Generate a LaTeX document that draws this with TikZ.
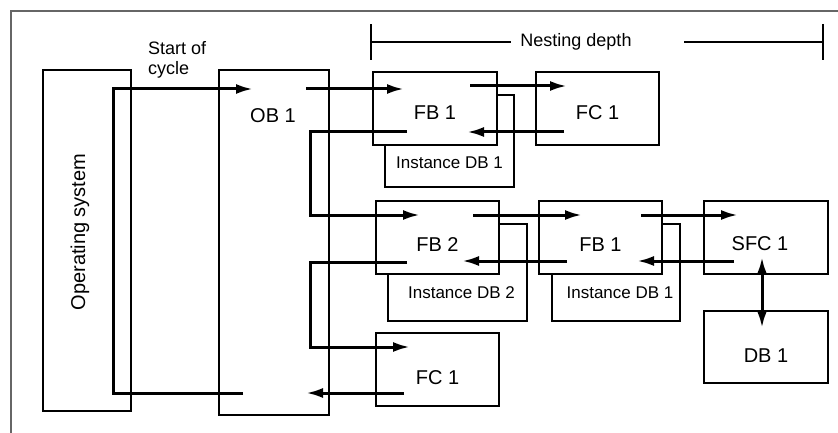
\documentclass[tikz,border=0pt]{standalone}
\usepackage{fontspec}
\setmainfont{Liberation Sans}
\usetikzlibrary{arrows.meta, positioning}

\begin{document}
\begin{tikzpicture}[
  x=1pt, y=-1pt,
  block/.style={
    rectangle, draw, fill=white,
    minimum width=123pt, minimum height=73pt,
    inner sep=0pt, outer sep=0pt, line width=1.3pt,
    font=\fontsize{20}{24}\selectfont, text height=23pt
  },
  instblock/.style={block, font=\fontsize{17}{20}\selectfont, text height=53pt},
  tag/.style={inner sep=1pt, font=\fontsize{18}{20}\selectfont},
  line/.style={draw, -{Latex[length=17pt,width=10pt]}, line width=3pt},
  twoway/.style={line, {Latex[length=17pt,width=10pt]}-{Latex[length=17pt,width=10pt]}},
  dimline/.style={draw, line width=1.8pt},
  frame/.style={draw, line width=1.5pt, color=black!60}
]
  \useasboundingbox (0,0) rectangle (838,433);
  \path [frame] (11,433) -- (11,11) -- (838,11);

  \node [block, minimum width=88pt, minimum height=341pt] (os) at (87,240.5) {};
  \node [block, minimum width=110pt, minimum height=345pt] (ob) at (274,242.5) {};
  \node [tag, font=\fontsize{20}{24}\selectfont, rotate=90] (ostext) at (80,232) {Operating system};
  \node [tag, font=\fontsize{20}{24}\selectfont] (obtext) at (273,115.5) {OB 1};

  \node [instblock, minimum width=129pt, minimum height=92pt, text height=56pt] (idbA) at (449.5,141) {Instance DB 1};
  \node [instblock, minimum width=139pt, minimum height=97pt] (idbB) at (457.5,272.5) {\kern8pt Instance DB 2};
  \node [instblock, minimum width=128pt, minimum height=97pt] (idbC) at (616,272.5) {\kern8pt Instance DB 1};

  \node [block, minimum width=124pt] (fbA) at (435,108.5) {FB 1};
  \node [block, right=39pt of fbA] (fcA) {FC 1};
  \node [block, text height=27pt] (fbB) at (437.5,237.5) {FB 2};
  \node [block, text height=27pt, right=40pt of fbB] (fbC) {FB 1};
  \node [block, text height=27pt, minimum width=124pt, right=42pt of fbC] (sfc) {SFC 1\kern12pt};
  \node [block, text height=30pt, minimum width=124pt, minimum height=72pt, below=37pt of sfc] (db) {DB 1};
  \node [block, text height=30pt, below=59pt of fbB] (fcB) {FC 1};

  \node [tag, align=left, anchor=west] (cycle) at (147,59.4) {Start of\\cycle};
  \node [tag] (nest) at (576,42) {Nesting depth};
  \coordinate (nestl) at (370,42);
  \coordinate (nestm) at (684,42);
  \coordinate (nestr) at (824,42);
  \path [dimline, {Bar[width=36pt]}-] (nestl) -- ([xshift=-8pt]nest.west);
  \path [dimline, -{Bar[width=36pt]}] (nestm) -- (nestr);

  \path [line] ([xshift=24pt,yshift=22pt]ob.south west) -- ++(-130,0) |- ([xshift=34pt,yshift=-19pt]ob.north west);
  \path [line] ([xshift=-23pt,yshift=-19pt]ob.north east) -- ([xshift=31pt,yshift=-17pt]fbA.north west);
  \path [line] ([xshift=-27pt,yshift=-14pt]fbA.north east) -- ([xshift=31pt,yshift=-14pt]fcA.north west);
  \path [line] ([xshift=28pt,yshift=13pt]fcA.south west) -- ([xshift=-30pt,yshift=13pt]fbA.south east);
  \path [line] ([xshift=34pt,yshift=13pt]fbA.south west) -- ++(-97,0) |- ([xshift=44pt,yshift=-14pt]fbB.north west);
  \path [line] ([xshift=-26pt,yshift=-14pt]fbB.north east) -- ([xshift=43pt,yshift=-14pt]fbC.north west);
  \path [line] ([xshift=-21pt,yshift=-14pt]fbC.north east) -- ([xshift=34pt,yshift=-14pt]sfc.north west);
  \path [line] ([xshift=30pt,yshift=13pt]sfc.south west) -- ([xshift=-25pt,yshift=13pt]fbC.south east);
  \path [line] ([xshift=28pt,yshift=13pt]fbC.south west) -- ([xshift=-37pt,yshift=13pt]fbB.south east);
  \path [line] ([xshift=31pt,yshift=12pt]fbB.south west) -- ++(-97,0) |- ([xshift=34pt,yshift=-14pt]fcB.north west);
  \path [line] ([xshift=28pt,yshift=13pt]fcB.south west) -- ([xshift=-23pt,yshift=22pt]ob.south east);
  \path [twoway] ([xshift=-4pt,yshift=17pt]sfc.south) -- ([xshift=-4pt,yshift=-17pt]db.north);

\end{tikzpicture}
\end{document}
